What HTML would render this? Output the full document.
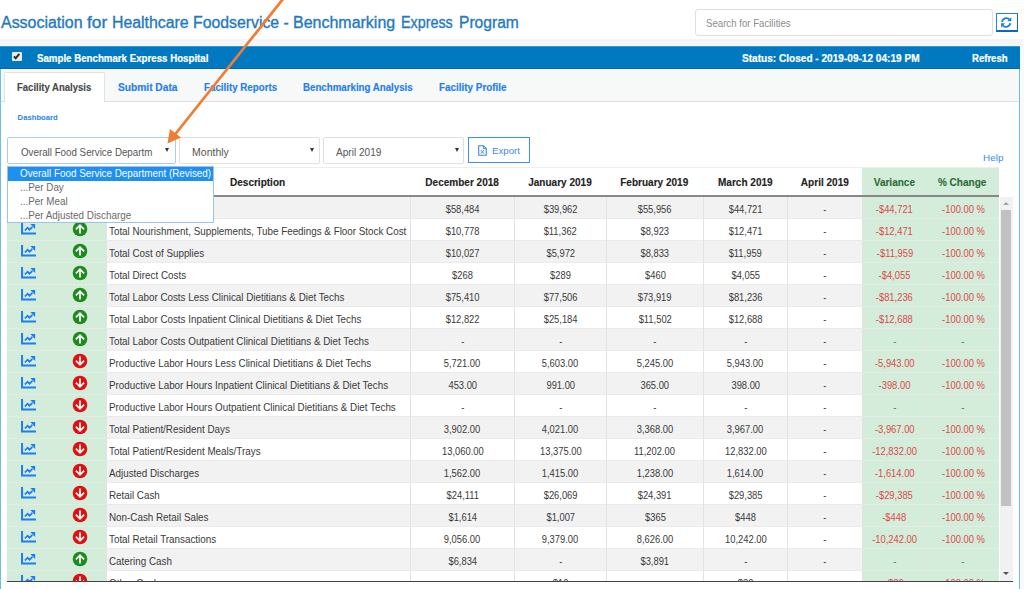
<!DOCTYPE html>
<html><head><meta charset="utf-8"><title>Benchmarking Express Program</title>
<style>
*{box-sizing:border-box;margin:0;padding:0}
html,body{width:1024px;height:589px;overflow:hidden;background:#fff}
body{position:relative;font-family:"Liberation Sans",Arial,sans-serif;font-size:9.8px;color:#333}
.a{position:absolute;white-space:nowrap}
#title,.tw{top:13.03px;-webkit-text-stroke:0.35px #1f7ac0;font-size:15.8px;line-height:20px;color:#1f7ac0;transform-origin:0 0}
#search{left:695px;top:9.4px;width:297.5px;height:26.6px;border:1px solid #e0e0e0;border-radius:3px;background:#fff}
#search span{position:absolute;left:9.8px;top:6.27px;font-size:10.2px;line-height:14px;color:#8c8c8c;transform:scaleX(0.946);transform-origin:0 0}
#rbtn{left:995.8px;top:12.7px;width:21.8px;height:19.8px;border:1.5px solid #1c86ec;border-bottom-width:2px;border-bottom-color:#0d68bf;border-right-color:#0d6fc9;background:#fff}
#band{left:0;top:39px;width:1023px;height:7px;background:#f4f5f6}
#panel{left:0;top:46px;width:1020.3px;height:560px;border-left:1.2px solid #6cc2da;border-right:1.4px solid #6cc2da}
#head{left:0;top:46px;width:1020px;height:23px;background:#0079c1;border-top:1px solid #2f9ccf;border-bottom:1px solid #0569a8}
.ht{font-weight:bold;color:#fff;font-size:9.8px;line-height:14px;-webkit-text-stroke-width:0.2px}
#chk{left:12.4px;top:52.1px;width:9.2px;height:8.7px;background:#e8ebe8;border-radius:1px}
#tabs{left:1px;top:69px;width:1018px;height:33px;background:#f7f8f8;border-bottom:1px solid #e0e0e0}
#tab1{left:4px;top:71.7px;width:100.5px;height:30.3px;background:#fff;border:1px solid #e2e2e2;border-bottom:none;border-radius:2px 2px 0 0}
.tt{font-weight:bold;font-size:9.8px;line-height:14px;color:#1f7ef0;-webkit-text-stroke-width:0.15px}
#dash{left:17.6px;font-weight:bold;font-size:7.7px;line-height:10px;color:#2f7ff0}
.sel{height:27.2px;top:137.3px;border:1px solid #e0e0e0;background:#fff;border-radius:2px}
.st{font-size:10.5px;line-height:14px;color:#555;transform:scaleX(0.93);transform-origin:0 0}
.tri{width:0;height:0;border-left:2.7px solid transparent;border-right:2.7px solid transparent;border-top:4.9px solid #333}
#exp{left:467.8px;top:136.9px;width:62px;height:25.9px;border:1.2px solid #3f8cf6;background:#fff}
#help{left:983.1px;font-size:9.9px;line-height:14px;color:#3a8af5}
/* table */
#thead{left:7px;top:167px;width:992px;height:30px;border-top:1px solid #eeeeee;border-bottom:2px solid #888}
table{border-collapse:collapse;table-layout:fixed}
#hdr{left:7px;top:168px;width:992px;height:27px}
.hc{position:absolute;top:0;height:27px;font-weight:bold;font-size:10.4px;text-align:center;color:#222;white-space:nowrap;line-height:14px;padding-top:8.30px;-webkit-text-stroke-width:0.12px}
.hc span{display:inline-block;transform:scaleX(0.965)}
.hc.gv{background:#d4ecda;color:#2a6c37}
#bodywrap{left:7px;top:197px;width:992px;height:384px;overflow:hidden}
.r{position:absolute;left:0;width:992px;height:22px}
.r.g{background:#f2f2f2}
.r.w{background:#fff}
.c{position:absolute;top:0;height:22px;white-space:nowrap;overflow:hidden;font-size:9.8px;line-height:14px;padding-top:6.03px;border-left:1px solid #e3e3e3;border-bottom:1px solid #ebebeb}
.c.cg{background:#d4ecda;border-left-color:#dfe6df;border-bottom-color:#e3ece3;text-align:center}
.c.d{padding-left:1.6px;color:#3a3a3a;font-size:10.3px}
.c span{display:inline-block}
.c.d span{transform:scaleX(0.955);transform-origin:0 0}
.c.n span{transform:scaleX(0.91)}
.c.n{text-align:center;color:#3a3a3a;font-size:10.3px}
.c.neg{color:#dd4a4a}
.c.dash{color:#2d8a3e}
.ic{position:absolute;left:14px;top:4.1px}
.ar{position:absolute;left:17.5px;top:1.8px}
#bline{left:7px;top:580.5px;width:1006px;height:1.4px;background:#444}
#sb{left:1000px;top:197px;width:12.7px;height:384px;background:#f1f1f1}
#thumb{left:1001.3px;top:210.2px;width:10px;height:296.2px;background:#c1c1c1}
.sbt{width:0;height:0;border-left:3.5px solid transparent;border-right:3.5px solid transparent}
/* dropdown */
#dd{left:7.4px;top:165.6px;width:207px;height:57.4px;background:#fff;border:1px solid #9cc4ea}
#dd .o{position:absolute;left:0;width:100%;height:14px;font-size:10.4px;line-height:14px;padding-left:12.1px;color:#6a6a6a;white-space:nowrap}
#dd .o span{display:inline-block;transform:scaleX(0.948);transform-origin:0 0}
#dd .o.hl{background:#1e8ff5;color:#fff}
</style></head><body>
<div class="a tw" style="left:0.70px;transform:scaleX(1.0099)">Association</div><div class="a tw" style="left:87.00px;transform:scaleX(1.0955)">for</div><div class="a tw" style="left:111.80px;transform:scaleX(1.0025)">Healthcare</div><div class="a tw" style="left:192.50px;transform:scaleX(1.0005)">Foodservice</div><div class="a tw" style="left:283.60px;transform:scaleX(1.0000)">-</div><div class="a tw" style="left:293.30px;transform:scaleX(1.0119)">Benchmarking</div><div class="a tw" style="left:400.60px;transform:scaleX(0.9076)">Express</div><div class="a tw" style="left:458.50px;transform:scaleX(0.9870)">Program</div>
<div class="a" id="search"><span>Search for Facilities</span></div>
<div class="a" id="rbtn"><svg width="18" height="16" viewBox="0 0 18 16" style="position:absolute;left:0.5px;top:0.5px"><g fill="none" stroke="#1f7fd0" stroke-width="1.9"><path d="M4.9 7.9A4.5 4.5 0 0 1 12.4 5.4"/><path d="M13.4 9.3A4.5 4.5 0 0 1 5.9 11.6"/></g><path d="M14.3 3.2V7.3H10.2Z" fill="#1f7fd0"/><path d="M4 13.4V9.3H8.1Z" fill="#1f7fd0"/></svg></div>
<div class="a" id="band"></div>
<div class="a" style="left:1020px;top:46px;width:4px;height:543px;background:#f9f9f9"></div>
<div class="a" id="panel"></div>
<div class="a" id="head"></div>
<div class="a" id="chk"><svg width="9" height="9" viewBox="0 0 9 9" style="position:absolute;left:0;top:0"><path d="M1.9 4.4L3.7 6.4L7.3 1.9" fill="none" stroke="#2a2a2a" stroke-width="1.9"/></svg></div>
<div class="a ht" style="left:37.20px;top:52.07px;font-size:10.2px;transform:scaleX(0.9519);transform-origin:0 0;">Sample Benchmark Express Hospital</div>
<div class="a ht" style="left:741.90px;top:52.03px;font-size:10.3px;transform:scaleX(0.9787);transform-origin:0 0;">Status: Closed - 2019-09-12 04:19 PM</div>
<div class="a ht" style="left:971.80px;top:52.03px;font-size:10.3px;transform:scaleX(0.9282);transform-origin:0 0;">Refresh</div>
<div class="a" id="tabs"></div>
<div class="a" id="tab1"></div>
<div class="a tt" style="left:16.90px;top:81.20px;font-size:10.4px;transform:scaleX(0.9159);transform-origin:0 0;color:#4a4a4a">Facility Analysis</div>
<div class="a tt" style="left:117.90px;top:81.20px;font-size:10.4px;transform:scaleX(0.9806);transform-origin:0 0;">Submit Data</div>
<div class="a tt" style="left:203.80px;top:81.20px;font-size:10.4px;transform:scaleX(0.9382);transform-origin:0 0;">Facility Reports</div>
<div class="a tt" style="left:302.80px;top:81.20px;font-size:10.4px;transform:scaleX(0.9343);transform-origin:0 0;">Benchmarking Analysis</div>
<div class="a tt" style="left:438.90px;top:81.20px;font-size:10.4px;transform:scaleX(0.9509);transform-origin:0 0;">Facility Profile</div>
<div class="a" id="dash" style="top:113.33px">Dashboard</div>
<div class="a sel" style="left:7.4px;width:168.6px;border-color:#a8cdef"></div>
<div class="a st" style="left:20.5px;top:145.16px">Overall Food Service Departm</div>
<div class="a tri" style="left:165.3px;top:147.8px"></div>
<div class="a sel" style="left:179px;width:141.2px"></div>
<div class="a st" style="left:192.1px;top:145.16px;transform:scaleX(1.0)">Monthly</div>
<div class="a tri" style="left:309.8px;top:147.8px"></div>
<div class="a sel" style="left:323px;width:141.4px"></div>
<div class="a st" style="left:336.1px;top:145.16px;transform:scaleX(0.96)">April 2019</div>
<div class="a tri" style="left:454.6px;top:147.8px"></div>
<div class="a" id="exp"></div>
<svg class="a" style="left:477.6px;top:144.6px" width="9" height="11" viewBox="0 0 9 11"><path d="M0.7 0.7H5.4L8.3 3.6V10.3H0.7Z" fill="none" stroke="#3f86f0" stroke-width="1.1"/><path d="M5.3 0.7V3.7H8.3" fill="none" stroke="#3f86f0" stroke-width="0.9"/><path d="M2.9 5.1L5.9 8.7M5.9 5.1L2.9 8.7" stroke="#3f86f0" stroke-width="1"/></svg>
<div class="a" style="left:492px;top:144.44px;font-size:9.7px;line-height:14px;color:#3d88f3">Export</div>
<div class="a" id="help" style="top:151.27px">Help</div>
<div class="a" id="thead"></div>
<div class="a" id="hdr"><div class="hc" style="left:0px;width:46px"><span></span></div><div class="hc" style="left:46px;width:53px"><span></span></div><div class="hc" style="left:99px;width:304px"><span>Description</span></div><div class="hc" style="left:403px;width:104px"><span>December 2018</span></div><div class="hc" style="left:507px;width:92px"><span>January 2019</span></div><div class="hc" style="left:599px;width:97px"><span>February 2019</span></div><div class="hc" style="left:696px;width:84px"><span>March 2019</span></div><div class="hc" style="left:780px;width:75px"><span>April 2019</span></div><div class="hc gv" style="left:855px;width:64px"><span>Variance</span></div><div class="hc gv" style="left:919px;width:73px"><span>% Change</span></div></div>
<div class="a" id="bodywrap">
<div class="r g" style="top:0px"><div class="c cg" style="left:0;width:46px;border-left:none"><svg class="ic" width="16" height="12" viewBox="0 0 16 12"><path d="M1.05 0V10.6H15" fill="none" stroke="#1e7cf2" stroke-width="2"/><path d="M3.9 7.5L6.6 4.7L8.5 6.8L11.4 3.8" fill="none" stroke="#1e7cf2" stroke-width="1.8"/><path d="M9.3 1.1H14.1V6Z" fill="#1e7cf2"/></svg></div><div class="c cg" style="left:46px;width:53px"><svg class="ar" width="16" height="16" viewBox="0 0 16 16"><circle cx="8" cy="8" r="7.3" fill="#1f8a1f"/><path d="M8 12.4V4.4M3.9 8.3L8 4.1L12.1 8.3" fill="none" stroke="#fff" stroke-width="1.7"/></svg></div><div class="c d" style="left:99px;width:304px"><span>Total Food Cost</span></div><div class="c n" style="left:403px;width:104px"><span>$58,484</span></div><div class="c n" style="left:507px;width:92px"><span>$39,962</span></div><div class="c n" style="left:599px;width:97px"><span>$55,956</span></div><div class="c n" style="left:696px;width:84px"><span>$44,721</span></div><div class="c n" style="left:780px;width:75px"><span>-</span></div><div class="c cg n neg" style="left:855px;width:64px"><span>-$44,721</span></div><div class="c cg n neg" style="left:919px;width:73px"><span>-100.00 %</span></div></div>
<div class="r w" style="top:22px"><div class="c cg" style="left:0;width:46px;border-left:none"><svg class="ic" width="16" height="12" viewBox="0 0 16 12"><path d="M1.05 0V10.6H15" fill="none" stroke="#1e7cf2" stroke-width="2"/><path d="M3.9 7.5L6.6 4.7L8.5 6.8L11.4 3.8" fill="none" stroke="#1e7cf2" stroke-width="1.8"/><path d="M9.3 1.1H14.1V6Z" fill="#1e7cf2"/></svg></div><div class="c cg" style="left:46px;width:53px"><svg class="ar" width="16" height="16" viewBox="0 0 16 16"><circle cx="8" cy="8" r="7.3" fill="#1f8a1f"/><path d="M8 12.4V4.4M3.9 8.3L8 4.1L12.1 8.3" fill="none" stroke="#fff" stroke-width="1.7"/></svg></div><div class="c d" style="left:99px;width:304px"><span>Total Nourishment, Supplements, Tube Feedings &amp; Floor Stock Cost</span></div><div class="c n" style="left:403px;width:104px"><span>$10,778</span></div><div class="c n" style="left:507px;width:92px"><span>$11,362</span></div><div class="c n" style="left:599px;width:97px"><span>$8,923</span></div><div class="c n" style="left:696px;width:84px"><span>$12,471</span></div><div class="c n" style="left:780px;width:75px"><span>-</span></div><div class="c cg n neg" style="left:855px;width:64px"><span>-$12,471</span></div><div class="c cg n neg" style="left:919px;width:73px"><span>-100.00 %</span></div></div>
<div class="r g" style="top:44px"><div class="c cg" style="left:0;width:46px;border-left:none"><svg class="ic" width="16" height="12" viewBox="0 0 16 12"><path d="M1.05 0V10.6H15" fill="none" stroke="#1e7cf2" stroke-width="2"/><path d="M3.9 7.5L6.6 4.7L8.5 6.8L11.4 3.8" fill="none" stroke="#1e7cf2" stroke-width="1.8"/><path d="M9.3 1.1H14.1V6Z" fill="#1e7cf2"/></svg></div><div class="c cg" style="left:46px;width:53px"><svg class="ar" width="16" height="16" viewBox="0 0 16 16"><circle cx="8" cy="8" r="7.3" fill="#1f8a1f"/><path d="M8 12.4V4.4M3.9 8.3L8 4.1L12.1 8.3" fill="none" stroke="#fff" stroke-width="1.7"/></svg></div><div class="c d" style="left:99px;width:304px"><span>Total Cost of Supplies</span></div><div class="c n" style="left:403px;width:104px"><span>$10,027</span></div><div class="c n" style="left:507px;width:92px"><span>$5,972</span></div><div class="c n" style="left:599px;width:97px"><span>$8,833</span></div><div class="c n" style="left:696px;width:84px"><span>$11,959</span></div><div class="c n" style="left:780px;width:75px"><span>-</span></div><div class="c cg n neg" style="left:855px;width:64px"><span>-$11,959</span></div><div class="c cg n neg" style="left:919px;width:73px"><span>-100.00 %</span></div></div>
<div class="r w" style="top:66px"><div class="c cg" style="left:0;width:46px;border-left:none"><svg class="ic" width="16" height="12" viewBox="0 0 16 12"><path d="M1.05 0V10.6H15" fill="none" stroke="#1e7cf2" stroke-width="2"/><path d="M3.9 7.5L6.6 4.7L8.5 6.8L11.4 3.8" fill="none" stroke="#1e7cf2" stroke-width="1.8"/><path d="M9.3 1.1H14.1V6Z" fill="#1e7cf2"/></svg></div><div class="c cg" style="left:46px;width:53px"><svg class="ar" width="16" height="16" viewBox="0 0 16 16"><circle cx="8" cy="8" r="7.3" fill="#1f8a1f"/><path d="M8 12.4V4.4M3.9 8.3L8 4.1L12.1 8.3" fill="none" stroke="#fff" stroke-width="1.7"/></svg></div><div class="c d" style="left:99px;width:304px"><span>Total Direct Costs</span></div><div class="c n" style="left:403px;width:104px"><span>$268</span></div><div class="c n" style="left:507px;width:92px"><span>$289</span></div><div class="c n" style="left:599px;width:97px"><span>$460</span></div><div class="c n" style="left:696px;width:84px"><span>$4,055</span></div><div class="c n" style="left:780px;width:75px"><span>-</span></div><div class="c cg n neg" style="left:855px;width:64px"><span>-$4,055</span></div><div class="c cg n neg" style="left:919px;width:73px"><span>-100.00 %</span></div></div>
<div class="r g" style="top:88px"><div class="c cg" style="left:0;width:46px;border-left:none"><svg class="ic" width="16" height="12" viewBox="0 0 16 12"><path d="M1.05 0V10.6H15" fill="none" stroke="#1e7cf2" stroke-width="2"/><path d="M3.9 7.5L6.6 4.7L8.5 6.8L11.4 3.8" fill="none" stroke="#1e7cf2" stroke-width="1.8"/><path d="M9.3 1.1H14.1V6Z" fill="#1e7cf2"/></svg></div><div class="c cg" style="left:46px;width:53px"><svg class="ar" width="16" height="16" viewBox="0 0 16 16"><circle cx="8" cy="8" r="7.3" fill="#1f8a1f"/><path d="M8 12.4V4.4M3.9 8.3L8 4.1L12.1 8.3" fill="none" stroke="#fff" stroke-width="1.7"/></svg></div><div class="c d" style="left:99px;width:304px"><span>Total Labor Costs Less Clinical Dietitians &amp; Diet Techs</span></div><div class="c n" style="left:403px;width:104px"><span>$75,410</span></div><div class="c n" style="left:507px;width:92px"><span>$77,506</span></div><div class="c n" style="left:599px;width:97px"><span>$73,919</span></div><div class="c n" style="left:696px;width:84px"><span>$81,236</span></div><div class="c n" style="left:780px;width:75px"><span>-</span></div><div class="c cg n neg" style="left:855px;width:64px"><span>-$81,236</span></div><div class="c cg n neg" style="left:919px;width:73px"><span>-100.00 %</span></div></div>
<div class="r w" style="top:110px"><div class="c cg" style="left:0;width:46px;border-left:none"><svg class="ic" width="16" height="12" viewBox="0 0 16 12"><path d="M1.05 0V10.6H15" fill="none" stroke="#1e7cf2" stroke-width="2"/><path d="M3.9 7.5L6.6 4.7L8.5 6.8L11.4 3.8" fill="none" stroke="#1e7cf2" stroke-width="1.8"/><path d="M9.3 1.1H14.1V6Z" fill="#1e7cf2"/></svg></div><div class="c cg" style="left:46px;width:53px"><svg class="ar" width="16" height="16" viewBox="0 0 16 16"><circle cx="8" cy="8" r="7.3" fill="#1f8a1f"/><path d="M8 12.4V4.4M3.9 8.3L8 4.1L12.1 8.3" fill="none" stroke="#fff" stroke-width="1.7"/></svg></div><div class="c d" style="left:99px;width:304px"><span>Total Labor Costs Inpatient Clinical Dietitians &amp; Diet Techs</span></div><div class="c n" style="left:403px;width:104px"><span>$12,822</span></div><div class="c n" style="left:507px;width:92px"><span>$25,184</span></div><div class="c n" style="left:599px;width:97px"><span>$11,502</span></div><div class="c n" style="left:696px;width:84px"><span>$12,688</span></div><div class="c n" style="left:780px;width:75px"><span>-</span></div><div class="c cg n neg" style="left:855px;width:64px"><span>-$12,688</span></div><div class="c cg n neg" style="left:919px;width:73px"><span>-100.00 %</span></div></div>
<div class="r g" style="top:132px"><div class="c cg" style="left:0;width:46px;border-left:none"><svg class="ic" width="16" height="12" viewBox="0 0 16 12"><path d="M1.05 0V10.6H15" fill="none" stroke="#1e7cf2" stroke-width="2"/><path d="M3.9 7.5L6.6 4.7L8.5 6.8L11.4 3.8" fill="none" stroke="#1e7cf2" stroke-width="1.8"/><path d="M9.3 1.1H14.1V6Z" fill="#1e7cf2"/></svg></div><div class="c cg" style="left:46px;width:53px"><svg class="ar" width="16" height="16" viewBox="0 0 16 16"><circle cx="8" cy="8" r="7.3" fill="#1f8a1f"/><path d="M8 12.4V4.4M3.9 8.3L8 4.1L12.1 8.3" fill="none" stroke="#fff" stroke-width="1.7"/></svg></div><div class="c d" style="left:99px;width:304px"><span>Total Labor Costs Outpatient Clinical Dietitians &amp; Diet Techs</span></div><div class="c n" style="left:403px;width:104px"><span>-</span></div><div class="c n" style="left:507px;width:92px"><span>-</span></div><div class="c n" style="left:599px;width:97px"><span>-</span></div><div class="c n" style="left:696px;width:84px"><span>-</span></div><div class="c n" style="left:780px;width:75px"><span>-</span></div><div class="c cg n dash" style="left:855px;width:64px"><span>-</span></div><div class="c cg n dash" style="left:919px;width:73px"><span>-</span></div></div>
<div class="r w" style="top:154px"><div class="c cg" style="left:0;width:46px;border-left:none"><svg class="ic" width="16" height="12" viewBox="0 0 16 12"><path d="M1.05 0V10.6H15" fill="none" stroke="#1e7cf2" stroke-width="2"/><path d="M3.9 7.5L6.6 4.7L8.5 6.8L11.4 3.8" fill="none" stroke="#1e7cf2" stroke-width="1.8"/><path d="M9.3 1.1H14.1V6Z" fill="#1e7cf2"/></svg></div><div class="c cg" style="left:46px;width:53px"><svg class="ar" width="16" height="16" viewBox="0 0 16 16"><circle cx="8" cy="8" r="7.3" fill="#dd1111"/><path d="M8 3.6V11.6M3.9 7.7L8 11.9L12.1 7.7" fill="none" stroke="#fff" stroke-width="1.7"/></svg></div><div class="c d" style="left:99px;width:304px"><span>Productive Labor Hours Less Clinical Dietitians &amp; Diet Techs</span></div><div class="c n" style="left:403px;width:104px"><span>5,721.00</span></div><div class="c n" style="left:507px;width:92px"><span>5,603.00</span></div><div class="c n" style="left:599px;width:97px"><span>5,245.00</span></div><div class="c n" style="left:696px;width:84px"><span>5,943.00</span></div><div class="c n" style="left:780px;width:75px"><span>-</span></div><div class="c cg n neg" style="left:855px;width:64px"><span>-5,943.00</span></div><div class="c cg n neg" style="left:919px;width:73px"><span>-100.00 %</span></div></div>
<div class="r g" style="top:176px"><div class="c cg" style="left:0;width:46px;border-left:none"><svg class="ic" width="16" height="12" viewBox="0 0 16 12"><path d="M1.05 0V10.6H15" fill="none" stroke="#1e7cf2" stroke-width="2"/><path d="M3.9 7.5L6.6 4.7L8.5 6.8L11.4 3.8" fill="none" stroke="#1e7cf2" stroke-width="1.8"/><path d="M9.3 1.1H14.1V6Z" fill="#1e7cf2"/></svg></div><div class="c cg" style="left:46px;width:53px"><svg class="ar" width="16" height="16" viewBox="0 0 16 16"><circle cx="8" cy="8" r="7.3" fill="#dd1111"/><path d="M8 3.6V11.6M3.9 7.7L8 11.9L12.1 7.7" fill="none" stroke="#fff" stroke-width="1.7"/></svg></div><div class="c d" style="left:99px;width:304px"><span>Productive Labor Hours Inpatient Clinical Dietitians &amp; Diet Techs</span></div><div class="c n" style="left:403px;width:104px"><span>453.00</span></div><div class="c n" style="left:507px;width:92px"><span>991.00</span></div><div class="c n" style="left:599px;width:97px"><span>365.00</span></div><div class="c n" style="left:696px;width:84px"><span>398.00</span></div><div class="c n" style="left:780px;width:75px"><span>-</span></div><div class="c cg n neg" style="left:855px;width:64px"><span>-398.00</span></div><div class="c cg n neg" style="left:919px;width:73px"><span>-100.00 %</span></div></div>
<div class="r w" style="top:198px"><div class="c cg" style="left:0;width:46px;border-left:none"><svg class="ic" width="16" height="12" viewBox="0 0 16 12"><path d="M1.05 0V10.6H15" fill="none" stroke="#1e7cf2" stroke-width="2"/><path d="M3.9 7.5L6.6 4.7L8.5 6.8L11.4 3.8" fill="none" stroke="#1e7cf2" stroke-width="1.8"/><path d="M9.3 1.1H14.1V6Z" fill="#1e7cf2"/></svg></div><div class="c cg" style="left:46px;width:53px"><svg class="ar" width="16" height="16" viewBox="0 0 16 16"><circle cx="8" cy="8" r="7.3" fill="#dd1111"/><path d="M8 3.6V11.6M3.9 7.7L8 11.9L12.1 7.7" fill="none" stroke="#fff" stroke-width="1.7"/></svg></div><div class="c d" style="left:99px;width:304px"><span>Productive Labor Hours Outpatient Clinical Dietitians &amp; Diet Techs</span></div><div class="c n" style="left:403px;width:104px"><span>-</span></div><div class="c n" style="left:507px;width:92px"><span>-</span></div><div class="c n" style="left:599px;width:97px"><span>-</span></div><div class="c n" style="left:696px;width:84px"><span>-</span></div><div class="c n" style="left:780px;width:75px"><span>-</span></div><div class="c cg n dash" style="left:855px;width:64px"><span>-</span></div><div class="c cg n dash" style="left:919px;width:73px"><span>-</span></div></div>
<div class="r g" style="top:220px"><div class="c cg" style="left:0;width:46px;border-left:none"><svg class="ic" width="16" height="12" viewBox="0 0 16 12"><path d="M1.05 0V10.6H15" fill="none" stroke="#1e7cf2" stroke-width="2"/><path d="M3.9 7.5L6.6 4.7L8.5 6.8L11.4 3.8" fill="none" stroke="#1e7cf2" stroke-width="1.8"/><path d="M9.3 1.1H14.1V6Z" fill="#1e7cf2"/></svg></div><div class="c cg" style="left:46px;width:53px"><svg class="ar" width="16" height="16" viewBox="0 0 16 16"><circle cx="8" cy="8" r="7.3" fill="#dd1111"/><path d="M8 3.6V11.6M3.9 7.7L8 11.9L12.1 7.7" fill="none" stroke="#fff" stroke-width="1.7"/></svg></div><div class="c d" style="left:99px;width:304px"><span>Total Patient/Resident Days</span></div><div class="c n" style="left:403px;width:104px"><span>3,902.00</span></div><div class="c n" style="left:507px;width:92px"><span>4,021.00</span></div><div class="c n" style="left:599px;width:97px"><span>3,368.00</span></div><div class="c n" style="left:696px;width:84px"><span>3,967.00</span></div><div class="c n" style="left:780px;width:75px"><span>-</span></div><div class="c cg n neg" style="left:855px;width:64px"><span>-3,967.00</span></div><div class="c cg n neg" style="left:919px;width:73px"><span>-100.00 %</span></div></div>
<div class="r w" style="top:242px"><div class="c cg" style="left:0;width:46px;border-left:none"><svg class="ic" width="16" height="12" viewBox="0 0 16 12"><path d="M1.05 0V10.6H15" fill="none" stroke="#1e7cf2" stroke-width="2"/><path d="M3.9 7.5L6.6 4.7L8.5 6.8L11.4 3.8" fill="none" stroke="#1e7cf2" stroke-width="1.8"/><path d="M9.3 1.1H14.1V6Z" fill="#1e7cf2"/></svg></div><div class="c cg" style="left:46px;width:53px"><svg class="ar" width="16" height="16" viewBox="0 0 16 16"><circle cx="8" cy="8" r="7.3" fill="#dd1111"/><path d="M8 3.6V11.6M3.9 7.7L8 11.9L12.1 7.7" fill="none" stroke="#fff" stroke-width="1.7"/></svg></div><div class="c d" style="left:99px;width:304px"><span>Total Patient/Resident Meals/Trays</span></div><div class="c n" style="left:403px;width:104px"><span>13,060.00</span></div><div class="c n" style="left:507px;width:92px"><span>13,375.00</span></div><div class="c n" style="left:599px;width:97px"><span>11,202.00</span></div><div class="c n" style="left:696px;width:84px"><span>12,832.00</span></div><div class="c n" style="left:780px;width:75px"><span>-</span></div><div class="c cg n neg" style="left:855px;width:64px"><span>-12,832.00</span></div><div class="c cg n neg" style="left:919px;width:73px"><span>-100.00 %</span></div></div>
<div class="r g" style="top:264px"><div class="c cg" style="left:0;width:46px;border-left:none"><svg class="ic" width="16" height="12" viewBox="0 0 16 12"><path d="M1.05 0V10.6H15" fill="none" stroke="#1e7cf2" stroke-width="2"/><path d="M3.9 7.5L6.6 4.7L8.5 6.8L11.4 3.8" fill="none" stroke="#1e7cf2" stroke-width="1.8"/><path d="M9.3 1.1H14.1V6Z" fill="#1e7cf2"/></svg></div><div class="c cg" style="left:46px;width:53px"><svg class="ar" width="16" height="16" viewBox="0 0 16 16"><circle cx="8" cy="8" r="7.3" fill="#dd1111"/><path d="M8 3.6V11.6M3.9 7.7L8 11.9L12.1 7.7" fill="none" stroke="#fff" stroke-width="1.7"/></svg></div><div class="c d" style="left:99px;width:304px"><span>Adjusted Discharges</span></div><div class="c n" style="left:403px;width:104px"><span>1,562.00</span></div><div class="c n" style="left:507px;width:92px"><span>1,415.00</span></div><div class="c n" style="left:599px;width:97px"><span>1,238.00</span></div><div class="c n" style="left:696px;width:84px"><span>1,614.00</span></div><div class="c n" style="left:780px;width:75px"><span>-</span></div><div class="c cg n neg" style="left:855px;width:64px"><span>-1,614.00</span></div><div class="c cg n neg" style="left:919px;width:73px"><span>-100.00 %</span></div></div>
<div class="r w" style="top:286px"><div class="c cg" style="left:0;width:46px;border-left:none"><svg class="ic" width="16" height="12" viewBox="0 0 16 12"><path d="M1.05 0V10.6H15" fill="none" stroke="#1e7cf2" stroke-width="2"/><path d="M3.9 7.5L6.6 4.7L8.5 6.8L11.4 3.8" fill="none" stroke="#1e7cf2" stroke-width="1.8"/><path d="M9.3 1.1H14.1V6Z" fill="#1e7cf2"/></svg></div><div class="c cg" style="left:46px;width:53px"><svg class="ar" width="16" height="16" viewBox="0 0 16 16"><circle cx="8" cy="8" r="7.3" fill="#dd1111"/><path d="M8 3.6V11.6M3.9 7.7L8 11.9L12.1 7.7" fill="none" stroke="#fff" stroke-width="1.7"/></svg></div><div class="c d" style="left:99px;width:304px"><span>Retail Cash</span></div><div class="c n" style="left:403px;width:104px"><span>$24,111</span></div><div class="c n" style="left:507px;width:92px"><span>$26,069</span></div><div class="c n" style="left:599px;width:97px"><span>$24,391</span></div><div class="c n" style="left:696px;width:84px"><span>$29,385</span></div><div class="c n" style="left:780px;width:75px"><span>-</span></div><div class="c cg n neg" style="left:855px;width:64px"><span>-$29,385</span></div><div class="c cg n neg" style="left:919px;width:73px"><span>-100.00 %</span></div></div>
<div class="r g" style="top:308px"><div class="c cg" style="left:0;width:46px;border-left:none"><svg class="ic" width="16" height="12" viewBox="0 0 16 12"><path d="M1.05 0V10.6H15" fill="none" stroke="#1e7cf2" stroke-width="2"/><path d="M3.9 7.5L6.6 4.7L8.5 6.8L11.4 3.8" fill="none" stroke="#1e7cf2" stroke-width="1.8"/><path d="M9.3 1.1H14.1V6Z" fill="#1e7cf2"/></svg></div><div class="c cg" style="left:46px;width:53px"><svg class="ar" width="16" height="16" viewBox="0 0 16 16"><circle cx="8" cy="8" r="7.3" fill="#dd1111"/><path d="M8 3.6V11.6M3.9 7.7L8 11.9L12.1 7.7" fill="none" stroke="#fff" stroke-width="1.7"/></svg></div><div class="c d" style="left:99px;width:304px"><span>Non-Cash Retail Sales</span></div><div class="c n" style="left:403px;width:104px"><span>$1,614</span></div><div class="c n" style="left:507px;width:92px"><span>$1,007</span></div><div class="c n" style="left:599px;width:97px"><span>$365</span></div><div class="c n" style="left:696px;width:84px"><span>$448</span></div><div class="c n" style="left:780px;width:75px"><span>-</span></div><div class="c cg n neg" style="left:855px;width:64px"><span>-$448</span></div><div class="c cg n neg" style="left:919px;width:73px"><span>-100.00 %</span></div></div>
<div class="r w" style="top:330px"><div class="c cg" style="left:0;width:46px;border-left:none"><svg class="ic" width="16" height="12" viewBox="0 0 16 12"><path d="M1.05 0V10.6H15" fill="none" stroke="#1e7cf2" stroke-width="2"/><path d="M3.9 7.5L6.6 4.7L8.5 6.8L11.4 3.8" fill="none" stroke="#1e7cf2" stroke-width="1.8"/><path d="M9.3 1.1H14.1V6Z" fill="#1e7cf2"/></svg></div><div class="c cg" style="left:46px;width:53px"><svg class="ar" width="16" height="16" viewBox="0 0 16 16"><circle cx="8" cy="8" r="7.3" fill="#dd1111"/><path d="M8 3.6V11.6M3.9 7.7L8 11.9L12.1 7.7" fill="none" stroke="#fff" stroke-width="1.7"/></svg></div><div class="c d" style="left:99px;width:304px"><span>Total Retail Transactions</span></div><div class="c n" style="left:403px;width:104px"><span>9,056.00</span></div><div class="c n" style="left:507px;width:92px"><span>9,379.00</span></div><div class="c n" style="left:599px;width:97px"><span>8,626.00</span></div><div class="c n" style="left:696px;width:84px"><span>10,242.00</span></div><div class="c n" style="left:780px;width:75px"><span>-</span></div><div class="c cg n neg" style="left:855px;width:64px"><span>-10,242.00</span></div><div class="c cg n neg" style="left:919px;width:73px"><span>-100.00 %</span></div></div>
<div class="r g" style="top:352px"><div class="c cg" style="left:0;width:46px;border-left:none"><svg class="ic" width="16" height="12" viewBox="0 0 16 12"><path d="M1.05 0V10.6H15" fill="none" stroke="#1e7cf2" stroke-width="2"/><path d="M3.9 7.5L6.6 4.7L8.5 6.8L11.4 3.8" fill="none" stroke="#1e7cf2" stroke-width="1.8"/><path d="M9.3 1.1H14.1V6Z" fill="#1e7cf2"/></svg></div><div class="c cg" style="left:46px;width:53px"><svg class="ar" width="16" height="16" viewBox="0 0 16 16"><circle cx="8" cy="8" r="7.3" fill="#1f8a1f"/><path d="M8 12.4V4.4M3.9 8.3L8 4.1L12.1 8.3" fill="none" stroke="#fff" stroke-width="1.7"/></svg></div><div class="c d" style="left:99px;width:304px"><span>Catering Cash</span></div><div class="c n" style="left:403px;width:104px"><span>$6,834</span></div><div class="c n" style="left:507px;width:92px"><span>-</span></div><div class="c n" style="left:599px;width:97px"><span>$3,891</span></div><div class="c n" style="left:696px;width:84px"><span>-</span></div><div class="c n" style="left:780px;width:75px"><span>-</span></div><div class="c cg n dash" style="left:855px;width:64px"><span>-</span></div><div class="c cg n dash" style="left:919px;width:73px"><span>-</span></div></div>
<div class="r w" style="top:374px"><div class="c cg" style="left:0;width:46px;border-left:none"><svg class="ic" width="16" height="12" viewBox="0 0 16 12"><path d="M1.05 0V10.6H15" fill="none" stroke="#1e7cf2" stroke-width="2"/><path d="M3.9 7.5L6.6 4.7L8.5 6.8L11.4 3.8" fill="none" stroke="#1e7cf2" stroke-width="1.8"/><path d="M9.3 1.1H14.1V6Z" fill="#1e7cf2"/></svg></div><div class="c cg" style="left:46px;width:53px"><svg class="ar" width="16" height="16" viewBox="0 0 16 16"><circle cx="8" cy="8" r="7.3" fill="#dd1111"/><path d="M8 3.6V11.6M3.9 7.7L8 11.9L12.1 7.7" fill="none" stroke="#fff" stroke-width="1.7"/></svg></div><div class="c d" style="left:99px;width:304px"><span>Other Cash</span></div><div class="c n" style="left:403px;width:104px"><span>-</span></div><div class="c n" style="left:507px;width:92px"><span>$10</span></div><div class="c n" style="left:599px;width:97px"><span>-</span></div><div class="c n" style="left:696px;width:84px"><span>$30</span></div><div class="c n" style="left:780px;width:75px"><span>-</span></div><div class="c cg n neg" style="left:855px;width:64px"><span>-$30</span></div><div class="c cg n neg" style="left:919px;width:73px"><span>-100.00 %</span></div></div>
</div>
<div class="a" id="sb"></div>
<div class="a" id="thumb"></div>
<div class="a sbt" style="left:1002.8px;top:202px;border-bottom:3.5px solid #a3a3a3"></div>
<div class="a sbt" style="left:1002.8px;top:572px;border-top:3.5px solid #505050"></div>
<div class="a" id="bline"></div>
<div class="a" id="dd">
<div class="o hl" style="top:0"><span>Overall Food Service Department (Revised)</span></div>
<div class="o" style="top:14px"><span>...Per Day</span></div>
<div class="o" style="top:28px"><span>...Per Meal</span></div>
<div class="o" style="top:42px"><span>...Per Adjusted Discharge</span></div>
</div>
<svg class="a" style="left:0;top:0" width="1024" height="589" viewBox="0 0 1024 589"><line x1="283" y1="-1" x2="173" y2="137" stroke="#ef7d32" stroke-width="2.8"/><path d="M167.5 143.5L170 129L181 137.5Z" fill="#ef7d32"/></svg>
</body></html>
